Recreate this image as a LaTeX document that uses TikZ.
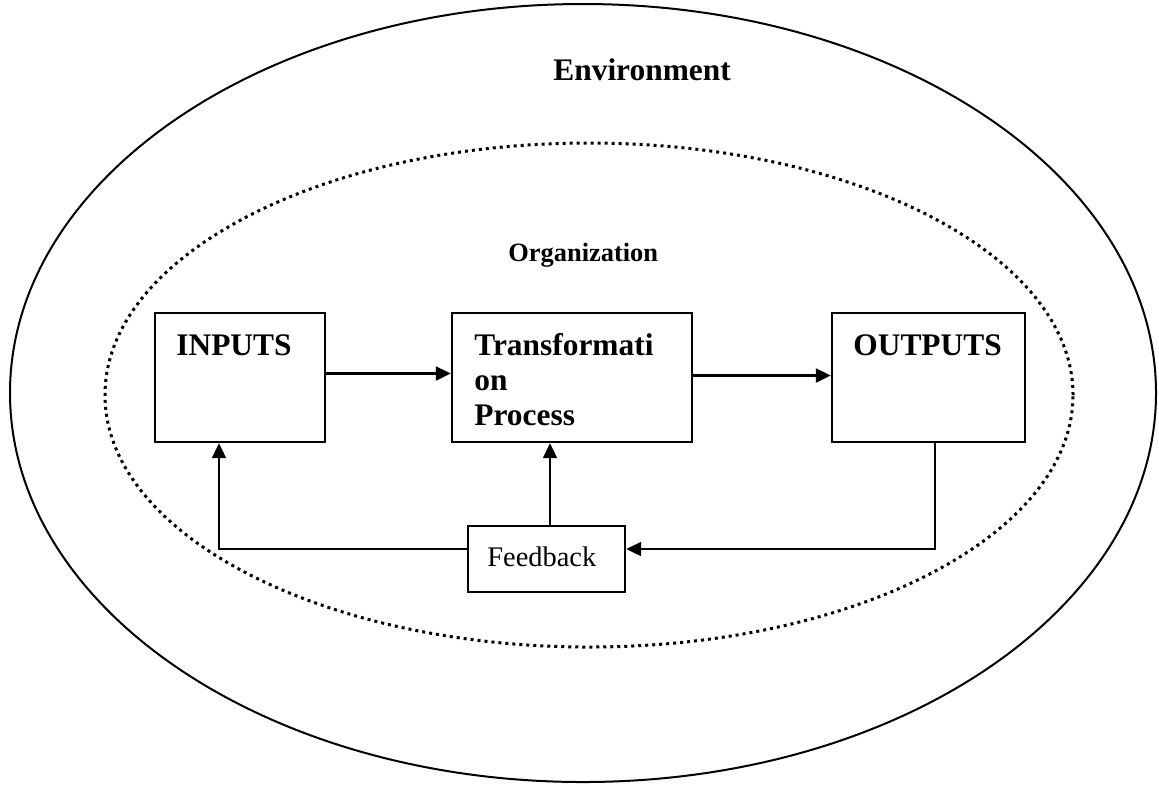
\documentclass[tikz,border=0pt]{standalone}
\usepackage{fontspec}
\setmainfont{Liberation Serif}
\usepackage{tikz}
\usetikzlibrary{calc,shapes,positioning}
\usetikzlibrary{arrows.meta}
\tikzset{>={Triangle[width=7pt,length=7.5pt]}}

\begin{document}
\begin{tikzpicture}[x=0.5pt, y=-0.5pt]
          \tikzstyle{bnode} = [draw, line width=1.2pt, rectangle, inner sep = 0pt, minimum height = 64.5pt]
          \tikzstyle{tnode} = [inner sep = 0pt, anchor = base west, align = left, font = \bfseries\fontsize{15.7}{17.5}\selectfont]
          \tikzstyle{link} = [line width=1.1pt]
          \useasboundingbox (0, 0) rectangle (1159, 784);

          % the two regions
          \node[draw, line width=1pt, ellipse, inner sep = 0pt, minimum width = 573pt, minimum height = 389pt] (env) at (583, 393) {};
          \node[draw, line width=1.5pt, dash pattern = on 1.5pt off 2pt, ellipse, inner sep = 0pt, minimum width = 484pt, minimum height = 252pt] (org) at (589, 395) {};
          \node[tnode] (envtxt) at (553, 80) {Environment};
          \node[tnode, font = \bfseries\fontsize{13.2}{15}\selectfont] (orgtxt) at (508, 261) {Organization};

          % the three stages
          \node[bnode, minimum width = 85pt] (inputs) at (240, 377.5) {};
          \node[bnode, minimum width = 120pt] (trans) at (572, 377.5) {};
          \node[bnode, minimum width = 96.5pt] (outputs) at (928.5, 377.5) {};
          \node[bnode, minimum width = 78.5pt, minimum height = 33pt] (fb) at (546.5, 559) {};

          \node[tnode] (intxt) at (176, 355) {INPUTS};
          % base of a multi-line node sits on its last line
          \node[tnode] (trtxt) at (474, 425) {Transformati\\on\\Process};
          \node[tnode] (outtxt) at (853, 355) {OUTPUTS};
          \node[tnode, font = \fontsize{14.2}{16}\selectfont] (fbtxt) at (487, 566) {Feedback};

          \draw[link, ->] ([yshift=2pt]inputs.east) to ([yshift=2pt]trans.west);
          \draw[link, ->] ([yshift=1pt]trans.east) to ([yshift=1pt]outputs.west);

          % feedback loop
          \draw[link, ->] ([xshift=3.25pt]outputs.south) |- ([yshift=5pt]fb.east);
          \draw[link, ->] ([yshift=5pt]fb.west) -| ([xshift=-10.5pt]inputs.south);
          \draw[link, ->] ([xshift=1.75pt]fb.north) to ([xshift=1.75pt]fb.north |- trans.south);
        \end{tikzpicture}
\end{document}
